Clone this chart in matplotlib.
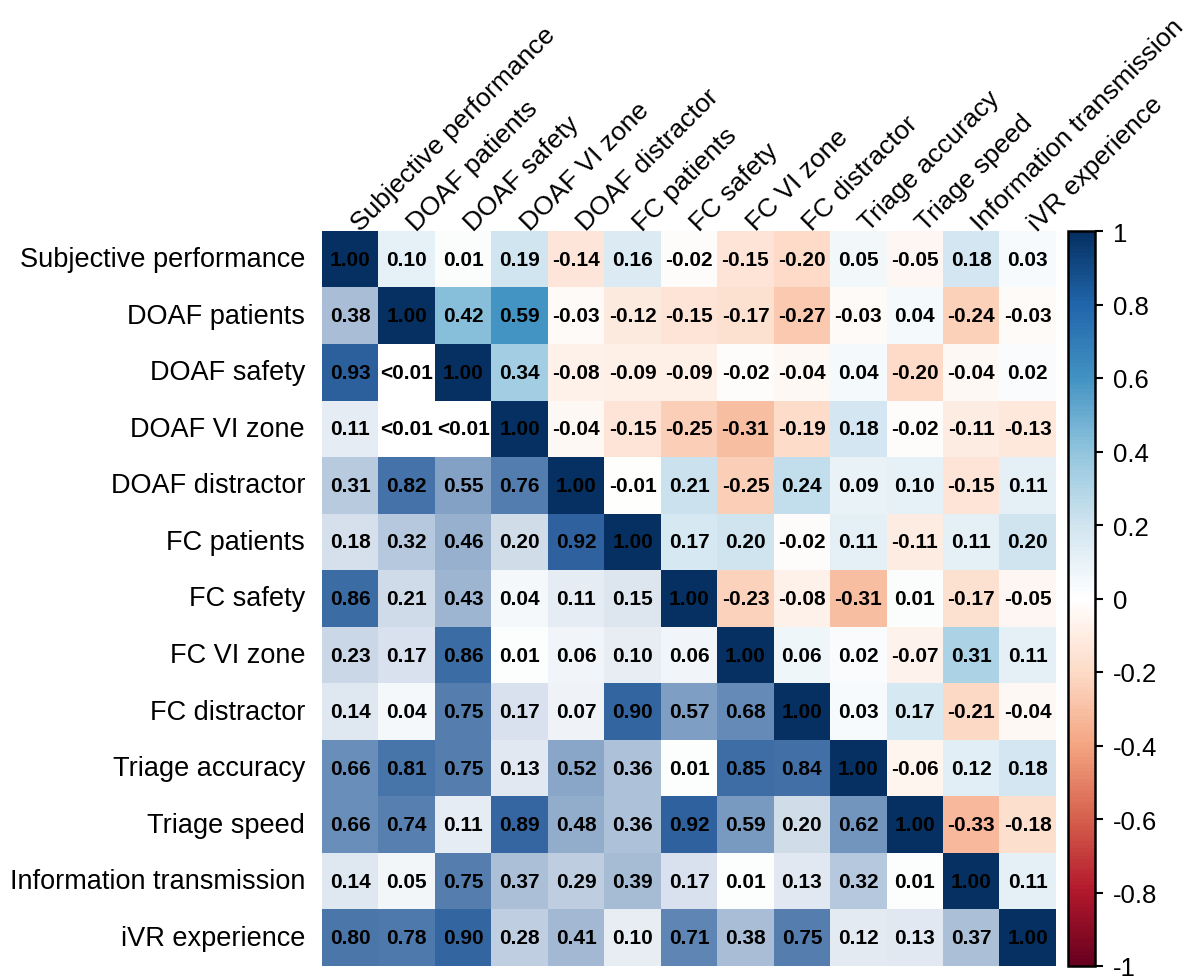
import numpy as np
import matplotlib
matplotlib.use("Agg")
import matplotlib.pyplot as plt
from matplotlib.colors import LinearSegmentedColormap, Normalize
from matplotlib.cm import ScalarMappable

plt.rcParams['font.family'] = ['Liberation Sans', 'DejaVu Sans']

labels = ["Subjective performance", "DOAF patients", "DOAF safety", "DOAF VI zone",
          "DOAF distractor", "FC patients", "FC safety", "FC VI zone", "FC distractor",
          "Triage accuracy", "Triage speed", "Information transmission", "iVR experience"]

# correlations above the diagonal, row i holds columns i+1 .. 12
r_upper = [
    [0.10, 0.01, 0.19, -0.14, 0.16, -0.02, -0.15, -0.20, 0.05, -0.05, 0.18, 0.03],
    [0.42, 0.59, -0.03, -0.12, -0.15, -0.17, -0.27, -0.03, 0.04, -0.24, -0.03],
    [0.34, -0.08, -0.09, -0.09, -0.02, -0.04, 0.04, -0.20, -0.04, 0.02],
    [-0.04, -0.15, -0.25, -0.31, -0.19, 0.18, -0.02, -0.11, -0.13],
    [-0.01, 0.21, -0.25, 0.24, 0.09, 0.10, -0.15, 0.11],
    [0.17, 0.20, -0.02, 0.11, -0.11, 0.11, 0.20],
    [-0.23, -0.08, -0.31, 0.01, -0.17, -0.05],
    [0.06, 0.02, -0.07, 0.31, 0.11],
    [0.03, 0.17, -0.21, -0.04],
    [-0.06, 0.12, 0.18],
    [-0.33, -0.18],
    [0.11],
    [],
]

# p-values below the diagonal, row i holds columns 0 .. i-1 (0.004 means "<0.01")
p_lower = [
    [],
    [0.38],
    [0.93, 0.004],
    [0.11, 0.004, 0.004],
    [0.31, 0.82, 0.55, 0.76],
    [0.18, 0.32, 0.46, 0.20, 0.92],
    [0.86, 0.21, 0.43, 0.04, 0.11, 0.15],
    [0.23, 0.17, 0.86, 0.01, 0.06, 0.10, 0.06],
    [0.14, 0.04, 0.75, 0.17, 0.07, 0.90, 0.57, 0.68],
    [0.66, 0.81, 0.75, 0.13, 0.52, 0.36, 0.01, 0.85, 0.84],
    [0.66, 0.74, 0.11, 0.89, 0.48, 0.36, 0.92, 0.59, 0.20, 0.62],
    [0.14, 0.05, 0.75, 0.37, 0.29, 0.39, 0.17, 0.01, 0.13, 0.32, 0.01],
    [0.80, 0.78, 0.90, 0.28, 0.41, 0.10, 0.71, 0.38, 0.75, 0.12, 0.13, 0.37],
]

cbar_ticks = [-1, -0.8, -0.6, -0.4, -0.2, 0, 0.2, 0.4, 0.6, 0.8, 1]
cbar_labels = ["-1", "-0.8", "-0.6", "-0.4", "-0.2", "0", "0.2", "0.4", "0.6", "0.8", "1"]

n = len(labels)
R = np.full((n, n), np.nan)   # upper triangle + diagonal
P = np.full((n, n), np.nan)   # lower triangle
for i in range(n):
    R[i, i] = 1.0
    for k, v in enumerate(r_upper[i]):
        R[i, i + 1 + k] = v
    for j, v in enumerate(p_lower[i]):
        P[i, j] = v

cmap = LinearSegmentedColormap.from_list(
    "corrRdBu", ["#67001F", "#B2182B", "#D6604D", "#F4A582", "#FDDBC7", "#FFFFFF",
                 "#D1E5F0", "#92C5DE", "#4393C3", "#2166AC", "#053061"], N=200)
pmap = LinearSegmentedColormap.from_list("pBlues", ["#FFFFFF", "#1E5596"], N=200)
norm = Normalize(-1, 1)

fig = plt.figure(figsize=(11.89, 9.79), dpi=100)
ax = fig.add_axes([322/1189, 1 - 967/979, 734/1189, 735/979])
ext = (-0.5, n - 0.5, n - 0.5, -0.5)
ax.imshow(np.ma.masked_invalid(R), cmap=cmap, norm=norm, aspect='auto',
          interpolation='nearest', extent=ext)
ax.imshow(np.ma.masked_invalid(P), cmap=pmap, vmin=0, vmax=1, aspect='auto',
          interpolation='nearest', extent=ext)
ax.set_xlim(-0.5, n - 0.5)
ax.set_ylim(n - 0.5, -0.5)
ax.axis('off')

for i in range(n):
    for j in range(n):
        if j < i:
            v = P[i, j]
            s = "<0.01" if v < 0.01 else "%.2f" % v
        else:
            s = "%.2f" % R[i, j]
        ax.text(j, i, s, ha='center', va='center', fontsize=15,
                fontweight='bold', color='black')

for i, lab in enumerate(labels):
    ax.text(-0.8, i, lab, ha='right', va='center', fontsize=19.5, color='black')
    ax.text(i + 0.18, -0.5, lab, ha='left', va='baseline', rotation=45,
            rotation_mode='anchor', fontsize=19, color='black')

cax = fig.add_axes([1068/1189, 1 - 967/979, 27/1189, 735/979])
cb = fig.colorbar(ScalarMappable(norm=norm, cmap=cmap), cax=cax, ticks=cbar_ticks)
cb.ax.set_yticklabels(cbar_labels)
cb.ax.tick_params(labelsize=18.5, direction='out', length=6, width=1.5, pad=7)
cb.outline.set_linewidth(1.8)

fig.savefig("out.png", dpi=100)
